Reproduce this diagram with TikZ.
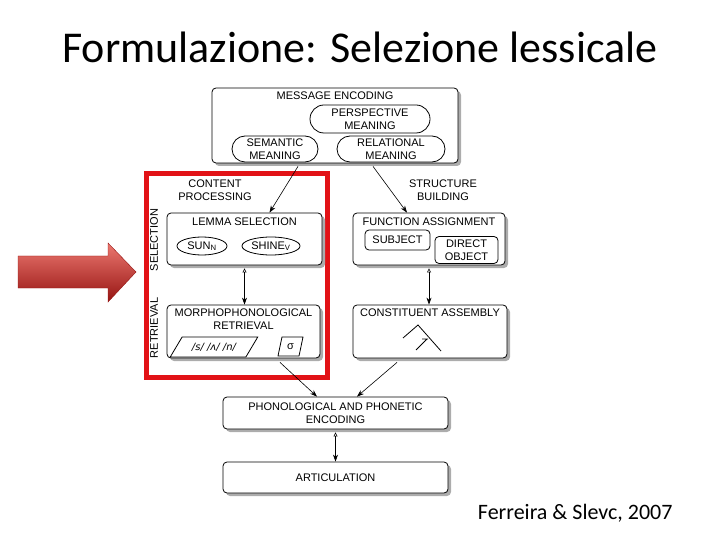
\documentclass[tikz,border=0pt]{standalone}
\usepackage{fontspec}
\setmainfont{Carlito}
\newfontfamily\figfont{Liberation Sans}
\newfontfamily\ipafont{DejaVu Sans}
\usepackage{tikz}
\usetikzlibrary{positioning, shapes.geometric, shapes.misc, shadows, arrows.meta}
\definecolor{framered}{RGB}{226, 18, 22}
\definecolor{arrowtop}{RGB}{236, 120, 112}
\definecolor{arrowmid}{RGB}{206, 42, 38}
\definecolor{arrowbot}{RGB}{150, 20, 18}

\begin{document}
\begin{tikzpicture}[
  x=1bp, y=-1bp,
  font=\figfont\fontsize{11bp}{13bp}\selectfont,
  stage/.style={
    draw, thick, rounded corners=4bp, fill=white, align=center, inner sep=0pt,
    drop shadow={shadow xshift=3bp, shadow yshift=-3bp, fill=gray!65, opacity=1}
  },
  pill/.style={draw, thick, rounded rectangle, align=center, inner sep=0pt},
  oval/.style={draw, thick, ellipse, inner sep=0pt},
  slot/.style={draw, thick, rounded corners=4bp, align=center, inner sep=0pt},
  slanted/.style={draw, thick, trapezium, trapezium stretches=true, inner sep=0pt},
  heading/.style={inner sep=0pt, align=center},
  sidelabel/.style={inner sep=0pt, rotate=90},
  link/.style={-{Stealth[length=7bp, width=5bp]}, semithick},
  twoway/.style={{Triangle[open, length=4bp, width=4bp]}-{Stealth[length=7bp, width=5bp]}, semithick, shorten <=3bp}
]
\useasboundingbox (0,0) rectangle (720,540);

% title and source
\node[font=\fontsize{44bp}{48bp}\selectfont] (title) at (360,47) {Formulazione: Selezione lessicale};
\node[font=\fontsize{22bp}{24bp}\selectfont, anchor=east] (source) at (676,513) {Ferreira \& Slevc, 2007};

% highlighted part
\draw[framered, line width=5bp] (146,174) rectangle (327,377);
\shade[top color=arrowtop, middle color=arrowmid, bottom color=arrowbot, draw=arrowbot, thin]
  (18,256) -- (108,256) -- (108,243) -- (136,272) -- (108,302) -- (108,288) -- (18,288) -- cycle;

% message encoding
\node[stage, minimum width=246bp, minimum height=75bp] (me) at (335,125.5) {};
\node[heading, below=4bp of me.north] (metitle) {MESSAGE ENCODING};
\node[pill, minimum width=120bp, minimum height=28bp] (persp) at (370,119) {PERSPECTIVE\\MEANING};
\node[pill, minimum width=86bp, minimum height=26bp] (sem) at (275,149) {SEMANTIC\\MEANING};
\node[pill, minimum width=108bp, minimum height=26bp] (rel) at (391,149) {RELATIONAL\\MEANING};

\node[heading] (content) at (215,190) {CONTENT\\PROCESSING};
\node[heading] (structure) at (443,190) {STRUCTURE\\BUILDING};

% lemma selection
\node[stage, minimum width=155bp, minimum height=52bp] (lemma) at (244.5,239) {};
\node[heading, below=5bp of lemma.north] (lemmatitle) {LEMMA SELECTION};
\node[oval, minimum width=50bp, minimum height=18bp] (sun) at (202,246) {SUN\textsubscript{N}};
\node[oval, minimum width=58bp, minimum height=18bp] (shine) at (271,246) {SHINE\textsubscript{V}};

% function assignment
\node[stage, minimum width=152bp, minimum height=52bp] (func) at (429,239) {};
\node[heading, below=5bp of func.north] (functitle) {FUNCTION ASSIGNMENT};
\node[slot, minimum width=65bp, minimum height=20bp] (subj) at (397.5,240) {SUBJECT};
\node[slot, minimum width=63bp, minimum height=27bp] (dobj) at (466.5,250) {DIRECT\\OBJECT};

% morphophonological retrieval
\node[stage, minimum width=153bp, minimum height=53bp] (morpho) at (243.5,331.5) {};
\node[heading, below=4bp of morpho.north] (morphotitle) {MORPHOPHONOLOGICAL\\RETRIEVAL};
\node[slanted, trapezium left angle=45, trapezium right angle=135,
  minimum width=88bp, minimum height=20bp] (segs) at (214,347) {\ipafont\itshape\fontsize{10bp}{12bp}\selectfont /s/ /ʌ/ /n/};
\node[slanted, trapezium left angle=75, trapezium right angle=105,
  minimum width=25bp, minimum height=19bp] (syll) at (290.5,346.5) {σ};

% constituent assembly
\node[stage, minimum width=154bp, minimum height=53bp] (const) at (430,331.5) {};
\node[heading, below=4bp of const.north] (consttitle) {CONSTITUENT ASSEMBLY};
\draw[thick] (403,338) -- (418,325) -- (441,351);
\draw[thick] (422,339) -- (428,339) (427,339) -- (416,350);

% phonology and articulation
\node[stage, minimum width=225bp, minimum height=32bp] (phon) at (335.5,413) {PHONOLOGICAL AND PHONETIC\\ENCODING};
\node[stage, minimum width=225bp, minimum height=31bp] (artic) at (335.5,477.5) {ARTICULATION};

% side labels
\node[sidelabel] (sel) at (154,240) {SELECTION};
\node[sidelabel] (ret) at (154,328) {RETRIEVAL};

% connections
\draw[link] ([xshift=-37bp, yshift=-3bp]me.south) -- ([xshift=25bp]lemma.north);
\draw[link] ([xshift=38bp, yshift=-3bp]me.south) -- ([xshift=-22bp]func.north);
\draw[twoway] (lemma.south) -- (lemma.south |- morpho.north);
\draw[twoway] (func.south) -- (func.south |- const.north);
\draw[link] ([xshift=36.5bp, yshift=-4bp]morpho.south) -- ([xshift=-18.5bp]phon.north);
\draw[link] ([xshift=-33bp, yshift=-4bp]const.south) -- ([xshift=21.5bp]phon.north);
\draw[twoway] (phon.south) -- (phon.south |- artic.north);
\end{tikzpicture}
\end{document}
